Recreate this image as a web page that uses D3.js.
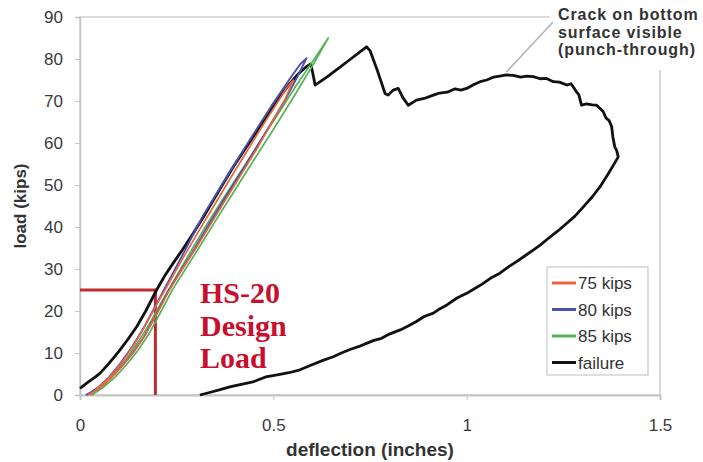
<!DOCTYPE html>
<html>
<head>
<meta charset="utf-8">
<script src="https://cdn.jsdelivr.net/npm/d3@7"></script>
<style>
body{margin:0;background:#fff;}
svg{display:block;font-family:"Liberation Sans",Arial,sans-serif;}
.axis path,.axis line{stroke:#c4c4c4;}
.axis text{fill:#3a3a3a;font-size:17px;}
</style>
</head>
<body>
<svg id="myGraph" width="703" height="462"></svg>
<script>
// deflection (in), load (kips)
var xTicks = [0,0.5,1,1.5];
var xTickLabels = ["0","0.5","1","1.5"];
var yTicks = [0,10,20,30,40,50,60,70,80,90];
var seriesNames = ["75 kips","80 kips","85 kips","failure"];
var seriesColors = ["#e8653f","#4b4fae","#55b257","#111111"];

var cycle75 = [[0.02,0],[0.05,1.6],[0.08,4],[0.11,7],[0.14,10.3],[0.17,14.5],[0.2,19.5],[0.23,24.8],[0.26,29.3],[0.3,35],[0.34,41],[0.38,47],[0.42,53],[0.46,59],[0.5,65.5],[0.53,70.3],[0.552,75],
  [0.535,73.2],[0.51,69.6],[0.47,63.8],[0.43,57.8],[0.39,51.8],[0.35,45.6],[0.31,39.5],[0.27,33.2],[0.235,27.5],[0.2,21.8],[0.17,16.8],[0.14,12],[0.11,8],[0.08,4.5],[0.05,2],[0.025,0]];
var cycle80 = [[0.015,0],[0.045,1.5],[0.075,3.8],[0.105,6.6],[0.135,9.8],[0.165,13.8],[0.195,18.8],[0.225,24.2],[0.255,28.8],[0.29,33.8],[0.336,41],[0.38,47.6],[0.43,55],[0.48,62.5],[0.53,70.2],[0.56,75.4],[0.586,80.2],
  [0.57,78.8],[0.545,75.6],[0.5,69.5],[0.45,62.3],[0.4,55],[0.36,49],[0.32,43],[0.297,39],[0.26,32.4],[0.225,26.4],[0.195,21.2],[0.165,16],[0.135,11.5],[0.105,7.6],[0.075,4.2],[0.045,1.7],[0.018,0]];
var cycle85 = [[0.03,0],[0.06,1.8],[0.09,4.2],[0.12,7.2],[0.15,10.6],[0.18,14.8],[0.21,20],[0.24,25.2],[0.27,29.6],[0.31,35.4],[0.35,41.4],[0.4,48.7],[0.45,56],[0.5,63.2],[0.55,70.6],[0.6,78.2],[0.642,85],
  [0.625,82.6],[0.6,79.2],[0.56,73.8],[0.51,66.6],[0.46,59.5],[0.41,52.4],[0.365,46],[0.32,39.4],[0.28,33.2],[0.245,27.6],[0.21,22],[0.18,17],[0.15,12.6],[0.12,8.5],[0.09,5],[0.06,2.3],[0.032,0]];
var failure = [[0,1.6],[0.02,3],[0.04,4.3],[0.052,5.2],[0.07,7],[0.09,9.2],[0.103,10.7],[0.125,13.4],[0.147,16.3],[0.17,20],[0.198,25],[0.22,28.5],[0.241,31.4],[0.265,34.6],[0.293,38.5],[0.32,42.5],[0.345,46.4],[0.37,50.3],[0.397,54.4],[0.42,57.6],[0.448,61.5],[0.475,65.2],[0.5,68.6],[0.52,71.4],[0.543,74.2],[0.565,76.5],[0.586,78.2],[0.597,78.8],
  [0.603,76.2],[0.608,73.8],[0.64,75.8],[0.67,77.9],[0.7,80],[0.72,81.4],[0.741,82.9],[0.75,82],[0.77,77],[0.789,71.8],[0.797,71.4],[0.81,72.6],[0.823,73.0],[0.835,70.8],[0.849,69.0],
  [0.87,70.2],[0.89,70.6],[0.914,71.4],[0.93,71.9],[0.95,72.1],[0.97,72.9],[0.985,72.6],[1.0,73.0],[1.02,74],[1.035,74.6],[1.052,75.0],[1.07,75.7],[1.085,75.9],[1.103,76.2],[1.12,76.1],[1.14,75.7],[1.155,75.9],[1.172,75.8],[1.19,75.3],[1.205,75.4],[1.224,74.6],[1.24,74.5],[1.259,73.8],[1.27,74.1],[1.284,72.2],[1.29,71.5],[1.297,69.0],[1.31,69.3],[1.325,69.1],[1.336,69.0],[1.345,68.2],[1.353,67.5],[1.36,66],[1.368,65.4],[1.375,63.9],[1.378,61.5],[1.383,59.1],[1.388,58.2],[1.392,56.7],
  [1.38,54.8],[1.365,52.5],[1.345,49.6],[1.325,47.2],[1.3,44.6],[1.28,42.6],[1.259,40.9],[1.235,39],[1.21,37.2],[1.19,35.7],[1.172,34.5],[1.15,33.1],[1.13,31.8],[1.108,30.5],[1.086,29.0],[1.065,28.0],[1.04,26.4],[1.02,25.3],[1.0,24.2],[0.975,23.1],[0.95,21.5],[0.93,20.5],[0.914,19.5],[0.89,18.7],[0.87,17.5],[0.85,16.5],[0.828,15.5],[0.8,14.5],[0.78,13.5],[0.76,13],[0.741,12.3],[0.72,11.5],[0.7,10.9],[0.676,10],[0.655,9.1],[0.63,8.3],[0.6,7.2],[0.569,6.0],[0.54,5.3],[0.51,4.8],[0.48,4.3],[0.45,3.2],[0.42,2.6],[0.39,2.0],[0.36,1.2],[0.335,0.6],[0.31,0]];
var designLoad = 25;      // HS-20
var designDefl = 0.195;

(function(){
var svg = d3.select("#myGraph");
var pLeft = 80, pRight = 660, pTop = 17, pBottom = 395;

var x = d3.scaleLinear().domain([0,1.5]).range([pLeft,pRight]);
var y = d3.scaleLinear().domain([0,90]).range([pBottom,pTop]);

// title (cut off at top of the image)
svg.append("text").attr("x",357).attr("y",-6).attr("text-anchor","middle")
  .style("font-size","28px").style("font-weight","bold").attr("fill","#111")
  .text("(Failure Cycle)");

// plot frame
svg.append("rect").attr("x",pLeft).attr("y",pTop).attr("width",pRight-pLeft).attr("height",pBottom-pTop)
  .attr("fill","none").attr("stroke","#cfcfcf").attr("stroke-width",1.5);

// axes
svg.append("g").attr("class","axis").attr("transform","translate("+pLeft+",0)")
  .call(d3.axisLeft(y).tickValues(yTicks).tickSize(5).tickPadding(12))
  .call(function(g){g.select(".domain").attr("stroke-width",1.5);});
svg.append("g").attr("class","axis").attr("transform","translate(0,"+pBottom+")")
  .call(d3.axisBottom(x).tickValues(xTicks).tickFormat(function(d,i){return xTickLabels[i];}).tickSize(5).tickPadding(19))
  .call(function(g){g.select(".domain").attr("stroke-width",2);});

svg.append("text").attr("transform","translate(26,206) rotate(-90)").attr("text-anchor","middle")
  .style("font-size","17px").style("font-weight","bold").attr("fill","#333").text("load (kips)");
svg.append("text").attr("x",370).attr("y",456).attr("text-anchor","middle")
  .style("font-size","19px").style("font-weight","bold").attr("fill","#333").text("deflection (inches)");

// design load marker
svg.append("path")
  .attr("d","M"+x(0)+","+y(designLoad)+"H"+x(designDefl)+"V"+y(0))
  .attr("fill","none").attr("stroke","#bf2b30").attr("stroke-width",3);

// curves
var line = d3.line().x(function(d){return x(d[0]);}).y(function(d){return y(d[1]);});
var allSeries = [cycle75,cycle80,cycle85,failure];
var widths = [1.7,1.9,1.7,2.8];
[3,2,1,0].forEach(function(i){
  svg.append("path").attr("d",line(allSeries[i])).attr("fill","none")
    .attr("stroke",seriesColors[i]).attr("stroke-width",widths[i]).attr("stroke-linejoin","round");
});

// HS-20 label
var hs = svg.append("text").attr("x",200).attr("y",303)
  .style("font-family","'Liberation Serif','Times New Roman',serif").style("font-size","30px").style("font-weight","bold")
  .attr("fill","#c8102e");
["HS-20","Design","Load"].forEach(function(t,i){
  hs.append("tspan").attr("x",200).attr("dy",i==0?0:32.5).text(t);
});

// legend
var lg = svg.append("g");
lg.append("rect").attr("x",547).attr("y",267).attr("width",101).attr("height",108)
  .attr("fill","#fff").attr("stroke","#c8c8c8").attr("stroke-width",1.2);
seriesNames.forEach(function(n,i){
  var cy = 283 + i*26.5;
  lg.append("line").attr("x1",552).attr("x2",576).attr("y1",cy).attr("y2",cy)
    .attr("stroke",seriesColors[i]).attr("stroke-width",3);
  lg.append("text").attr("x",578).attr("y",cy+6).style("font-size","17px").attr("fill","#333").text(n);
});

// annotation
svg.append("rect").attr("x",550).attr("y",0).attr("width",153).attr("height",70).attr("fill","#fff");
svg.append("line").attr("x1",553).attr("y1",22).attr("x2",x(1.103)).attr("y2",y(76.2)-3)
  .attr("stroke","#b0b0b0").attr("stroke-width",1.5);
var an = svg.append("text").attr("x",558).attr("y",20).style("font-size","16px").style("font-weight","bold")
  .style("letter-spacing","0.9px").attr("fill","#333");
["Crack on bottom","surface visible","(punch-through)"].forEach(function(t,i){
  an.append("tspan").attr("x",558).attr("dy",i==0?0:17.5).text(t);
});
})();
</script>
</body>
</html>
